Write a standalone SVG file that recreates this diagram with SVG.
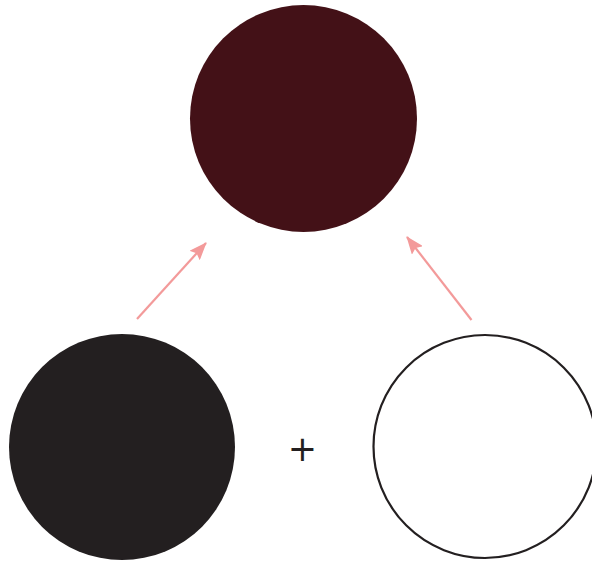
<svg xmlns="http://www.w3.org/2000/svg" width="592" height="561" viewBox="0 0 592 561">
<style>
.conn{stroke:#f39a9a;stroke-width:2.2;fill:none;marker-end:url(#ah)}
.lbl{font-family:"DejaVu Sans",sans-serif;font-size:35px;fill:#231f20;text-anchor:middle}
</style>
<defs>
<marker id="ah" viewBox="0 0 18 14" refX="17" refY="7" markerWidth="18" markerHeight="14" markerUnits="userSpaceOnUse" orient="auto">
<path d="M0,0 L18,7 L0,14 L3,7 Z" fill="#f39a9a"/>
</marker>
</defs>
<rect width="592" height="561" fill="#fff"/>
<g id="top"><circle cx="303.5" cy="118.5" r="113.5" fill="#431117"/></g>
<g id="left"><circle cx="122" cy="447" r="113" fill="#231f20"/></g>
<g id="right"><circle cx="485" cy="446.5" r="111.5" fill="#fff" stroke="#231f20" stroke-width="2.2"/></g>
<g id="plus"><text class="lbl" x="302.5" y="461">+</text></g>
<g id="connectors">
<path class="conn" d="M137,319 L206,243"/>
<path class="conn" d="M471.5,320 L407,237"/>
</g>
</svg>
